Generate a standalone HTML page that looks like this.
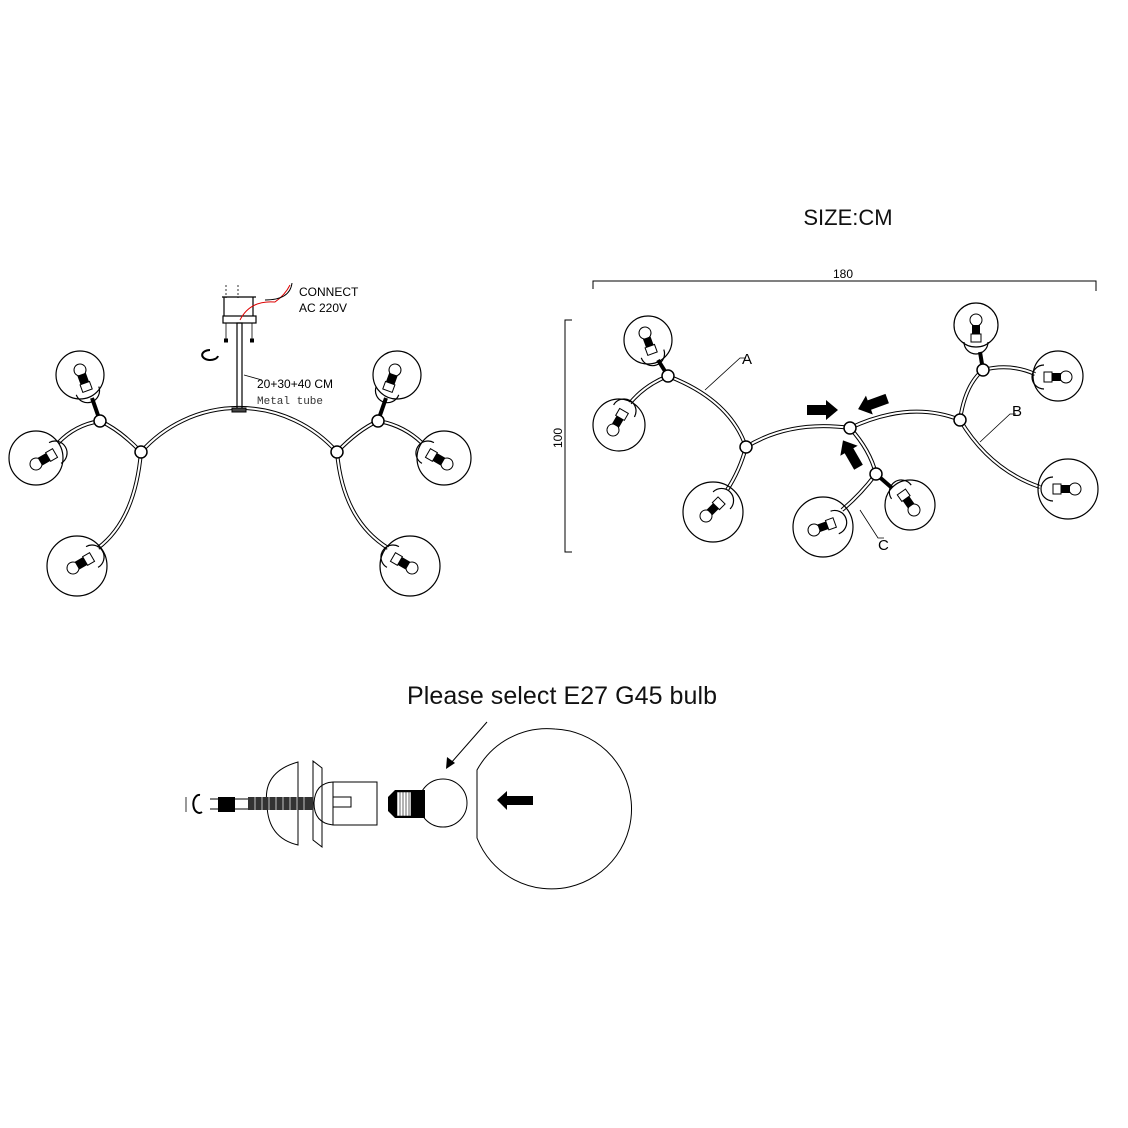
<!DOCTYPE html>
<html><head><meta charset="utf-8"><style>html,body{margin:0;padding:0;background:#fff}svg{display:block}</style></head>
<body>
<svg width="1128" height="1128" viewBox="0 0 1128 1128" xmlns="http://www.w3.org/2000/svg" font-family="Liberation Sans, sans-serif">
<defs>
<g id="bulb">
  <circle cx="0" cy="0" r="6" fill="#fff" stroke="#000" stroke-width="1"/>
  <rect x="5" y="-4" width="9" height="8" fill="#000"/>
  <rect x="14" y="-5" width="8" height="10" fill="#fff" stroke="#000" stroke-width="1"/>
  <path d="M22,-12 A12,12 0 0 1 22,12" fill="none" stroke="#000" stroke-width="1.2"/>
</g>
</defs>
<g fill="none" stroke="#000">
<!-- LEFT DRAWING tubes -->
<g stroke-width="4" stroke="#000">
  <path d="M141,452 A131,131 0 0 1 337,452"/>
  <path d="M141,452 Q135,520 98,548"/>
  <path d="M141,452 Q120,430 100,421"/>
  <path d="M100,421 L92,398"/>
  <path d="M100,421 Q75,425 58,443"/>
  <path d="M337,452 Q343,520 388,548"/>
  <path d="M337,452 Q358,430 378,421"/>
  <path d="M378,421 L386,398"/>
  <path d="M378,421 Q403,425 422,443"/>
</g>
<g stroke-width="2" stroke="#fff">
  <path d="M141,452 A131,131 0 0 1 337,452"/>
  <path d="M141,452 Q135,520 98,548"/>
  <path d="M141,452 Q120,430 100,421"/>
  <path d="M100,421 Q75,425 58,443"/>
  <path d="M337,452 Q343,520 388,548"/>
  <path d="M337,452 Q358,430 378,421"/>
  <path d="M378,421 Q403,425 422,443"/>
</g>
<g stroke-width="1.2">
  <circle cx="80" cy="375" r="24"/>
  <circle cx="36" cy="458" r="27"/>
  <circle cx="77" cy="566" r="30"/>
  <circle cx="397" cy="375" r="24"/>
  <circle cx="444" cy="458" r="27"/>
  <circle cx="410" cy="566" r="30"/>
</g>
<use href="#bulb" transform="translate(80,370) rotate(70)"/>
<use href="#bulb" transform="translate(36,464) rotate(-30)"/>
<use href="#bulb" transform="translate(73,568) rotate(-30)"/>
<use href="#bulb" transform="translate(395,370) rotate(110)"/>
<use href="#bulb" transform="translate(447,464) rotate(-150)"/>
<use href="#bulb" transform="translate(412,568) rotate(-150)"/>
<g fill="#fff" stroke-width="1.5">
  <circle cx="141" cy="452" r="6"/><circle cx="100" cy="421" r="6"/>
  <circle cx="337" cy="452" r="6"/><circle cx="378" cy="421" r="6"/>
</g>
<!-- canopy & tube -->
<line x1="226" y1="285" x2="226" y2="298" stroke-width="0.8" stroke-dasharray="2,2"/>
<line x1="238" y1="285" x2="238" y2="298" stroke-width="0.8" stroke-dasharray="2,2"/>
<line x1="222" y1="297" x2="256" y2="297" stroke-width="1.2"/>
<line x1="224" y1="297" x2="224" y2="316" stroke-width="1.2"/>
<line x1="253" y1="297" x2="253" y2="316" stroke-width="1.2"/>
<rect x="223" y="316" width="33" height="7" stroke-width="1.2"/>
<line x1="226" y1="323" x2="226" y2="340" stroke-width="0.8"/>
<line x1="252" y1="323" x2="252" y2="340" stroke-width="0.8"/>
<rect x="224.5" y="339" width="3" height="3" fill="#000"/>
<rect x="250.5" y="339" width="3" height="3" fill="#000"/>
<path d="M240,320 Q250,300 275,302 Q285,295 290,285" stroke="#d00" stroke-width="1"/>
<path d="M265,300 Q290,300 292,283" stroke-width="1"/>
<rect x="237" y="323" width="5" height="86" stroke-width="1.2"/>
<rect x="232" y="408" width="14" height="4" fill="#444"/>
<path d="M210,350 A8,5 0 1 0 218,356" stroke-width="2"/>
<line x1="262" y1="380" x2="244" y2="375" stroke-width="0.8"/>
</g>
<text x="299" y="296" font-size="12">CONNECT</text>
<text x="299" y="312" font-size="12">AC 220V</text>
<text x="257" y="388" font-size="12">20+30+40 CM</text>
<text x="257" y="404" font-size="11" font-family="Liberation Mono, monospace" fill="#333">Metal tube</text>

<!-- RIGHT DRAWING -->
<text x="848" y="225" font-size="22" text-anchor="middle" fill="#111">SIZE:CM</text>
<text x="843" y="278" font-size="12" text-anchor="middle">180</text>
<g stroke="#000" fill="none" stroke-width="1">
  <path d="M593,289 V281 H1096 V291"/>
  <path d="M572,320 H565 V552 H572"/>
</g>
<text x="0" y="0" font-size="12" transform="translate(562,448) rotate(-90)">100</text>
<g fill="none" stroke="#000">
<g stroke-width="4">
  <path d="M668,376 Q730,400 746,447"/>
  <path d="M746,447 Q790,420 850,428"/>
  <path d="M850,428 Q910,400 960,420"/>
  <path d="M960,420 Q990,470 1040,487"/>
  <path d="M960,420 Q965,385 983,370"/>
  <path d="M983,370 Q1010,363 1035,374"/>
  <path d="M983,370 L980,352"/>
  <path d="M746,447 Q740,470 727,490"/>
  <path d="M850,428 Q870,450 876,474"/>
  <path d="M876,474 Q860,495 842,510"/>
  <path d="M876,474 L892,488"/>
  <path d="M668,376 L658,360"/>
  <path d="M668,376 Q645,385 630,403"/>
</g>
<g stroke-width="2" stroke="#fff">
  <path d="M668,376 Q730,400 746,447"/>
  <path d="M746,447 Q790,420 850,428"/>
  <path d="M850,428 Q910,400 960,420"/>
  <path d="M960,420 Q990,470 1040,487"/>
  <path d="M960,420 Q965,385 983,370"/>
  <path d="M983,370 Q1010,363 1035,374"/>
  <path d="M746,447 Q740,470 727,490"/>
  <path d="M850,428 Q870,450 876,474"/>
  <path d="M876,474 Q860,495 842,510"/>
  <path d="M668,376 Q645,385 630,403"/>
</g>
<g stroke-width="1.2">
  <circle cx="648" cy="340" r="24"/>
  <circle cx="619" cy="425" r="26"/>
  <circle cx="713" cy="512" r="30"/>
  <circle cx="823" cy="527" r="30"/>
  <circle cx="910" cy="505" r="25"/>
  <circle cx="976" cy="325" r="22"/>
  <circle cx="1058" cy="376" r="25"/>
  <circle cx="1068" cy="489" r="30"/>
</g>
</g>
<use href="#bulb" transform="translate(645,333) rotate(70)"/>
<use href="#bulb" transform="translate(613,430) rotate(-60)"/>
<use href="#bulb" transform="translate(706,516) rotate(-45)"/>
<use href="#bulb" transform="translate(814,530) rotate(-20)"/>
<use href="#bulb" transform="translate(914,510) rotate(-125)"/>
<use href="#bulb" transform="translate(976,320) rotate(90)"/>
<use href="#bulb" transform="translate(1066,377) rotate(180)"/>
<use href="#bulb" transform="translate(1075,489) rotate(180)"/>
<g fill="#fff" stroke="#000" stroke-width="1.5">
  <circle cx="668" cy="376" r="6"/><circle cx="746" cy="447" r="6"/>
  <circle cx="850" cy="428" r="6"/><circle cx="876" cy="474" r="6"/>
  <circle cx="960" cy="420" r="6"/><circle cx="983" cy="370" r="6"/>
</g>
<g stroke="#000" stroke-width="0.8" fill="none">
  <path d="M705,390 L740,358 H746"/>
  <path d="M980,442 L1010,414 H1016"/>
  <path d="M860,510 L878,538 H884"/>
</g>
<text x="742" y="364" font-size="15">A</text>
<text x="1012" y="416" font-size="15">B</text>
<text x="878" y="550" font-size="15">C</text>
<g fill="#000">
  <polygon points="807,405 826,405 826,400 838,410 826,420 826,415 807,415"/>
  <g transform="translate(875,403) rotate(160)"><polygon points="-13,-5 6,-5 6,-10 18,0 6,10 6,5 -13,5"/></g>
  <g transform="translate(852,456) rotate(-120)"><polygon points="-13,-5 6,-5 6,-10 18,0 6,10 6,5 -13,5"/></g>
</g>

<!-- BOTTOM -->
<text x="407" y="704" font-size="25" textLength="310" fill="#111">Please select E27 G45 bulb</text>
<g stroke="#000" fill="none" stroke-width="1">
  <line x1="487" y1="722" x2="451" y2="763"/>
</g>
<polygon points="446,769 447,757 455,763" fill="#000"/>
<g stroke="#000" fill="none" stroke-width="1">
  <path d="M186,797 V812" stroke-width="0.8"/>
  <path d="M200,795 A6,9 0 1 0 202,812" stroke-width="2"/>
  <line x1="210" y1="799" x2="250" y2="799"/>
  <line x1="210" y1="809" x2="250" y2="809"/>
  <path d="M298,762 Q262,772 267,805 Q268,838 298,845 Z"/>
  <path d="M313,761 L322,768 V847 L313,840 Z"/>
  <path d="M333,782 H377 V825 H333 Q314,823 314,803 Q315,783 333,782 Z"/>
  <line x1="333" y1="782" x2="333" y2="825"/>
  <rect x="333" y="797" width="18" height="10"/>
  <circle cx="443" cy="803" r="24"/>
  <path d="M555,729 A80,80 0 1 1 477,838 V770 A80,80 0 0 1 555,729 Z"/>
</g>
<rect x="218" y="797" width="17" height="15" fill="#000"/>
<g fill="#000">
  <rect x="248" y="797" width="65" height="13" fill="#333"/>
  <path d="M388,797 L395,790 H425 V818 H395 L388,811 Z"/>
  <rect x="397" y="792" width="14" height="24" fill="#fff" stroke="#000" stroke-width="0.5"/>
  <polygon points="497,800 507,791 507,796 533,796 533,805 507,805 507,810"/>
</g>
<g stroke="#fff" stroke-width="0.7">
  <path d="M255,797 V810 M262,797 V810 M269,797 V810 M276,797 V810 M283,797 V810 M290,797 V810 M297,797 V810 M304,797 V810"/>
</g>
<g stroke="#000" stroke-width="0.6">
  <path d="M400,792 V816 M403,792 V816 M406,792 V816 M409,792 V816"/>
</g>
</svg>
</body></html>
